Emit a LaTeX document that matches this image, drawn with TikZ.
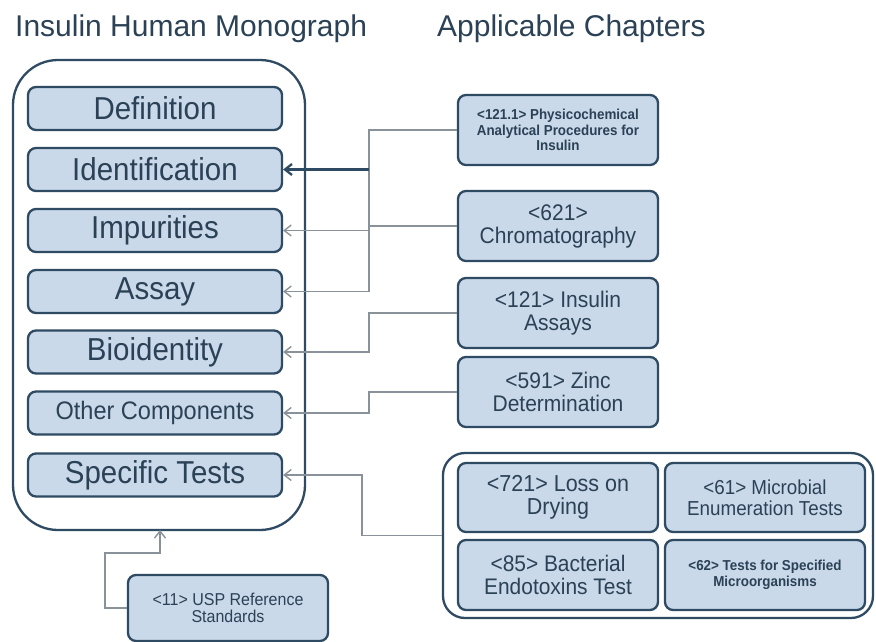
\documentclass[tikz,border=0pt]{standalone}
\usepackage{fontspec}
\setmainfont{Liberation Sans}
\newfontfamily\boxfont[FakeStretch=0.93]{Liberation Sans}
\usetikzlibrary{arrows.meta,calc}
\definecolor{txt}{HTML}{2B4156}
\definecolor{bord}{HTML}{2F4B63}
\definecolor{boxfill}{HTML}{C9D9E9}
\definecolor{conng}{HTML}{8A9299}
\tikzset{
  box/.style={draw=bord, line width=2.3pt, fill=boxfill, rounded corners=8pt,
    inner sep=0pt, align=center, text=txt},
  leftbox/.style={box, minimum width=254pt, minimum height=43pt,
    font=\boxfont\fontsize{31.7}{33}\selectfont},
  chapbox/.style={box, minimum width=200pt, minimum height=70pt,
    font=\boxfont\fontsize{22.6}{23}\selectfont},
  container/.style={draw=bord, line width=2.3pt, fill=white, inner sep=0pt},
  conn/.style={draw=conng, line width=1.4pt, -{Straight Barb[length=7pt,width=11pt]}},
  connplain/.style={draw=conng, line width=1.4pt},
  conndark/.style={draw=bord, line width=2.3pt, -{Straight Barb[length=7pt,width=11pt]}},
  titletext/.style={anchor=west, text=txt, inner sep=0pt, font=\fontsize{30}{32}\selectfont},
}
\begin{document}
\begin{tikzpicture}[x=1pt,y=-1pt]
\useasboundingbox (0,0) rectangle (876,641);
% titles
\node[titletext] (t1) at (15,29) {Insulin Human Monograph};
\node[titletext] (t2) at (437,29) {Applicable Chapters};
% outer containers
\node[container, rounded corners=45pt, minimum width=292pt, minimum height=470pt] (outer) at (159,295) {};
\node[container, rounded corners=22pt, minimum width=430pt, minimum height=165pt] (group) at (658,535.5) {};
% left boxes
\node[leftbox] (def) at (155,108.5) {Definition};
\node[leftbox] (ident) at (155,169.5) {Identification};
\node[leftbox] (impur) at (155,230.5) {Impurities};
\node[leftbox] (assay) at (155,291.5) {Assay};
\node[leftbox] (bio) at (155,352) {Bioidentity};
\node[leftbox, font=\boxfont\fontsize{25.3}{27}\selectfont] (other) at (155,413) {Other Components};
\node[leftbox] (spec) at (155,475) {Specific Tests};
% chapter boxes
\node[chapbox, font=\boxfont\bfseries\fontsize{14.4}{15.5}\selectfont] (ch1) at (558,130) {<121.1> Physicochemical\\Analytical Procedures for\\Insulin};
\node[chapbox] (ch2) at (558,226) {<621>\\Chromatography};
\node[chapbox] (ch3) at (558,313) {<121> Insulin\\Assays};
\node[chapbox] (ch4) at (558,392) {<591> Zinc\\Determination};
% group boxes
\node[chapbox, minimum height=69pt, font=\boxfont\fontsize{23.1}{23}\selectfont] (g1) at (558,497.5) {<721> Loss on\\Drying};
\node[chapbox, minimum height=69pt, font=\boxfont\fontsize{20.2}{21}\selectfont] (g2) at (765,497.5) {<61> Microbial\\Enumeration Tests};
\node[chapbox, font=\boxfont\fontsize{22.5}{23}\selectfont] (g3) at (558,575) {<85> Bacterial\\Endotoxins Test};
\node[chapbox, font=\boxfont\bfseries\fontsize{14.4}{15.5}\selectfont] (g4) at (765,575) {<62> Tests for Specified\\Microorganisms};
% USP box
\node[chapbox, minimum height=66pt, font=\boxfont\fontsize{17.2}{17.5}\selectfont, text depth=0pt] (usp) at (228,608) {<11> USP Reference\\Standards};
% connectors
\coordinate (bx) at (369,0);
\coordinate (bs) at (362,0);
\coordinate (u1) at (105,553);
\coordinate (u2) at (160,530);
\draw[conn] (ch1.west) -| (assay.east -| bx) -- (assay.east);
\draw[connplain] (ch2.west) -- (ch2.west -| bx);
\draw[conn] (impur.east -| bx) -- (impur.east);
\draw[conndark] (ident.east -| bx) -- (ident.east);
\draw[conn] (ch3.west) -| (bio.east -| bx) -- (bio.east);
\draw[conn] (ch4.west) -| (other.east -| bx) -- (other.east);
\draw[conn] (group.west) -| (spec.east -| bs) -- (spec.east);
\draw[conn] (usp.west) -| (u1) -| (u2);
\end{tikzpicture}
\end{document}
